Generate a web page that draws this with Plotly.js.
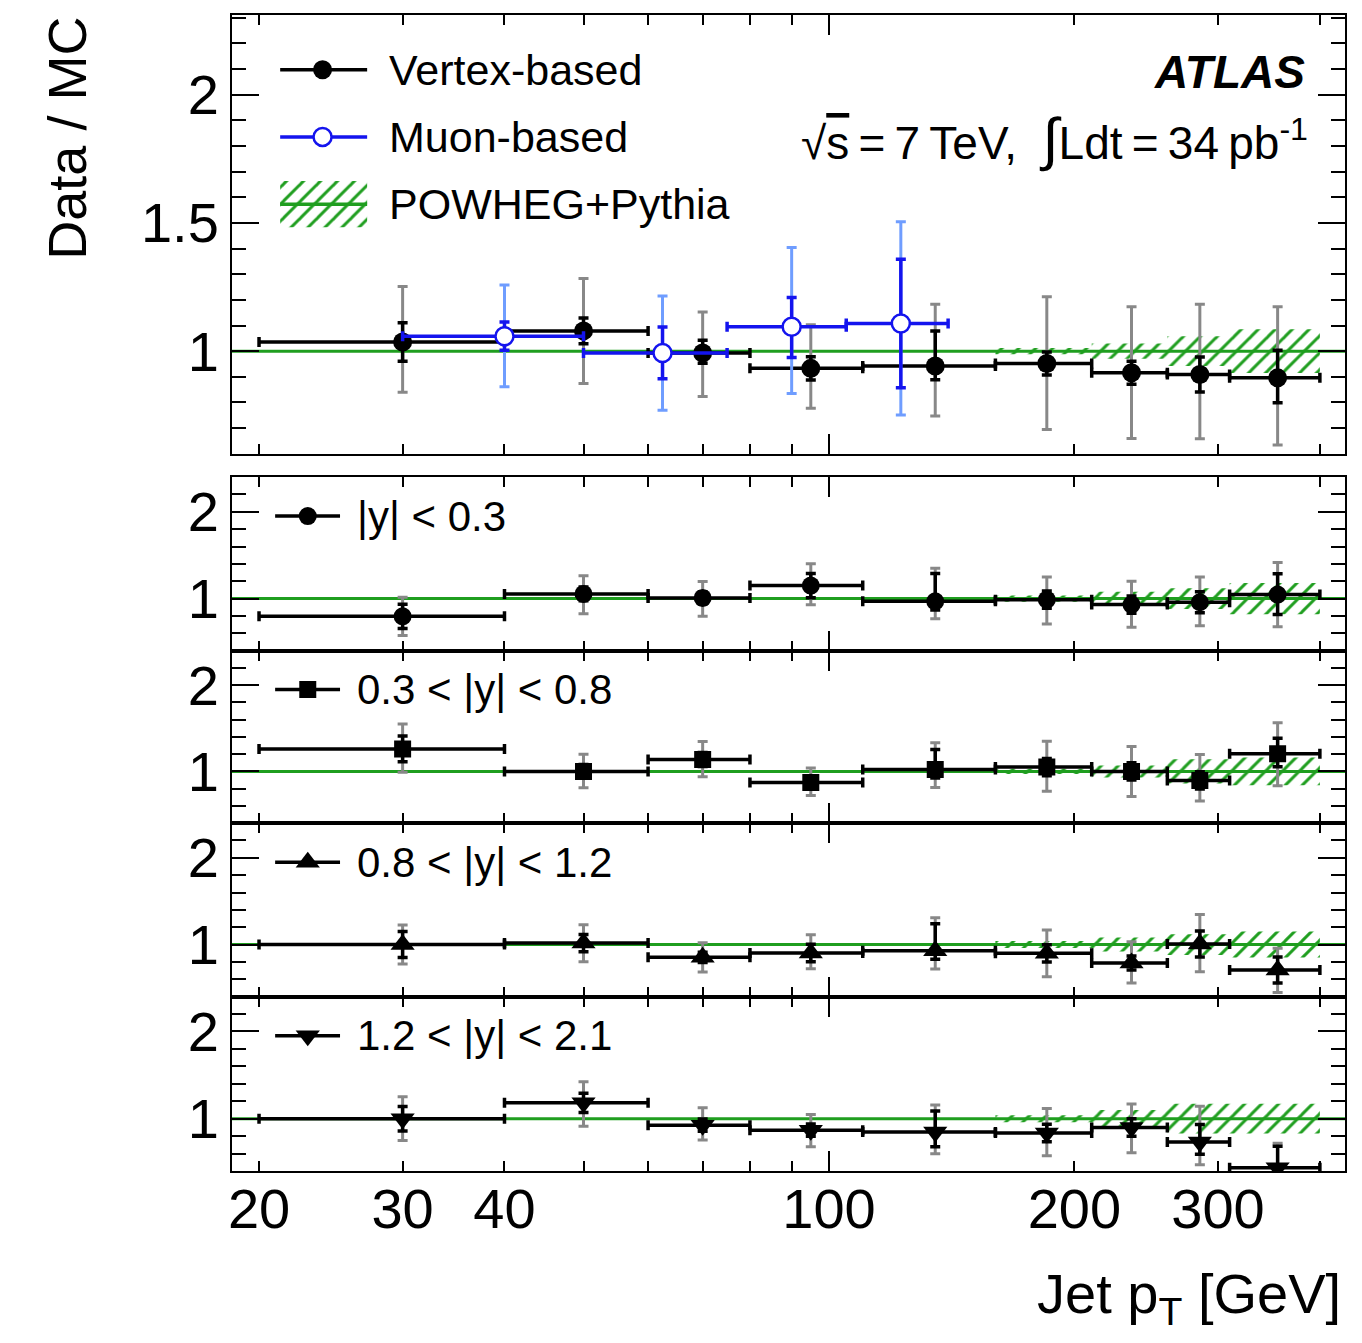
<!DOCTYPE html>
<html><head><meta charset="utf-8">
<script src="https://cdn.plot.ly/plotly-3.0.1.min.js"></script>
<style>html,body{margin:0;padding:0;background:#fff}</style>
</head><body><div id="plot" style="width:1362px;height:1343px"></div>
<script>
// ---------------- data ----------------
const binLo     = [20, 40, 60, 80, 110, 160, 210, 260, 310];
const binHi     = [40, 60, 80, 110, 160, 210, 260, 310, 400];
const binCenter = [30, 50, 70, 95, 135, 185, 235, 285, 355];

// top panel: vertex-based
const vtxVal    = [1.036, 1.079, 0.993, 0.933, 0.942, 0.952, 0.916, 0.909, 0.896];
const vtxStatUp = [0.075, 0.050, 0.050, 0.045, 0.137, 0.045, 0.045, 0.068, 0.108];
const vtxStatDn = [0.075, 0.050, 0.040, 0.045, 0.053, 0.045, 0.045, 0.068, 0.097];
const vtxTotUp  = [0.216, 0.204, 0.160, 0.170, 0.241, 0.260, 0.257, 0.274, 0.277];
const vtxTotDn  = [0.196, 0.205, 0.170, 0.155, 0.195, 0.257, 0.256, 0.250, 0.262];

// top panel: muon-based
const muLo     = [30, 50, 75, 105];
const muHi     = [50, 75, 105, 140];
const muCenter = [40, 62.5, 90, 122.5];
const muVal    = [1.058, 0.993, 1.095, 1.108];
const muStatUp = [0.056, 0.101, 0.114, 0.250];
const muStatDn = [0.054, 0.100, 0.120, 0.251];
const muTotUp  = [0.200, 0.222, 0.309, 0.396];
const muTotDn  = [0.197, 0.223, 0.260, 0.357];

// MC uncertainty band half-widths per bin
const bandTop = [0, 0, 0, 0, 0, 0.012, 0.030, 0.058, 0.085];
const bandY1  = [0, 0, 0, 0, 0, 0.035, 0.080, 0.120, 0.180];
const bandY2  = [0, 0, 0, 0, 0, 0.030, 0.070, 0.140, 0.160];
const bandY3  = [0, 0, 0, 0, 0, 0.040, 0.080, 0.120, 0.150];
const bandY4  = [0, 0, 0, 0, 0, 0.040, 0.100, 0.170, 0.170];

// |y| < 0.3
const y1Val    = [0.796, 1.054, 1.008, 1.150, 0.969, 0.988, 0.931, 0.958, 1.046];
const y1StatUp = [0.14, 0.08, 0.07, 0.14, 0.32, 0.10, 0.10, 0.12, 0.24];
const y1StatDn = [0.14, 0.08, 0.07, 0.14, 0.10, 0.10, 0.10, 0.12, 0.23];
const y1TotUp  = [0.22, 0.21, 0.19, 0.25, 0.38, 0.26, 0.27, 0.29, 0.37];
const y1TotDn  = [0.22, 0.23, 0.21, 0.22, 0.20, 0.28, 0.26, 0.27, 0.37];
// 0.3 < |y| < 0.8
const y2Val    = [1.261, 1.000, 1.138, 0.870, 1.023, 1.050, 1.000, 0.896, 1.204];
const y2StatUp = [0.15, 0.08, 0.08, 0.07, 0.23, 0.10, 0.10, 0.10, 0.18];
const y2StatDn = [0.15, 0.08, 0.08, 0.07, 0.10, 0.10, 0.10, 0.10, 0.15];
const y2TotUp  = [0.29, 0.20, 0.21, 0.17, 0.31, 0.30, 0.29, 0.30, 0.36];
const y2TotDn  = [0.27, 0.19, 0.20, 0.15, 0.21, 0.28, 0.29, 0.24, 0.37];
// 0.8 < |y| < 1.2
const y3Val    = [1.000, 1.017, 0.852, 0.902, 0.929, 0.899, 0.787, 1.006, 0.706];
const y3StatUp = [0.15, 0.10, 0.06, 0.10, 0.31, 0.10, 0.08, 0.15, 0.15];
const y3StatDn = [0.15, 0.10, 0.06, 0.10, 0.10, 0.10, 0.08, 0.15, 0.15];
const y3TotUp  = [0.225, 0.21, 0.17, 0.21, 0.38, 0.27, 0.245, 0.34, 0.25];
const y3TotDn  = [0.225, 0.215, 0.17, 0.18, 0.21, 0.27, 0.23, 0.32, 0.26];
// 1.2 < |y| < 2.1
const y4Val    = [1.000, 1.182, 0.925, 0.868, 0.848, 0.836, 0.899, 0.733, 0.438];
const y4StatUp = [0.14, 0.11, 0.07, 0.07, 0.24, 0.10, 0.10, 0.20, 0.245];
const y4StatDn = [0.14, 0.11, 0.07, 0.07, 0.17, 0.10, 0.10, 0.14, 0.245];
const y4TotUp  = [0.25, 0.24, 0.20, 0.18, 0.31, 0.28, 0.27, 0.41, 0.28];
const y4TotDn  = [0.25, 0.27, 0.17, 0.19, 0.25, 0.26, 0.29, 0.26, 0.28];

const xTickVals   = [20, 30, 40, 100, 200, 300];
const xTickText   = ['20', '30', '40', '100', '200', '300'];
const xMinorVals  = [20, 30, 40, 50, 60, 70, 80, 90, 200, 300, 400];
const seriesNames = ['Vertex-based', 'Muon-based', 'POWHEG+Pythia'];
const rapLabels   = ['|y| < 0.3', '0.3 < |y| < 0.8', '0.8 < |y| < 1.2', '1.2 < |y| < 2.1'];

// ---------------- style ----------------
const X_MIN = 18.53, X_MAX = 429.4;
const FONT = 'Liberation Sans, Arial, Helvetica, sans-serif';
const GREEN = '#1f9e1f', GRAY = '#888888', BLUE = '#1414ee', LBLUE = '#6f9dff';
const LEG_TOP = {x0: 21.23, x1: 27.14, xm: 23.93, y: [2.097, 1.835, 1.573], boxHalf: 0.09};
const LEG_LOW = {x0: 20.93, x1: 25.14, xm: 22.95, y: 1.95};

const sub = (a, b) => a.map((v, i) => v - b[i]);
const traces = [];

function bandTrace(xa, ya, half) {
  const xs = [], ys = [];
  for (let i = 0; i < half.length; i++) if (half[i] > 0) { xs.push(binLo[i], binHi[i]); ys.push(1 + half[i], 1 + half[i]); }
  for (let i = half.length - 1; i >= 0; i--) if (half[i] > 0) { xs.push(binHi[i], binLo[i]); ys.push(1 - half[i], 1 - half[i]); }
  return {x: xs, y: ys, xaxis: xa, yaxis: ya, mode: 'lines', line: {width: 0, color: 'rgba(0,0,0,0)'},
    fill: 'toself', fillcolor: 'rgba(0,0,0,0)',
    fillpattern: {shape: '/', size: 12, solidity: 0.25, fgcolor: GREEN, bgcolor: 'rgba(0,0,0,0)', fgopacity: 1},
    hoverinfo: 'skip', showlegend: false};
}
function unityLine(xa, ya) {
  return {x: [X_MIN, X_MAX], y: [1, 1], xaxis: xa, yaxis: ya, mode: 'lines',
    line: {color: GREEN, width: 3}, hoverinfo: 'skip', showlegend: false};
}
function pointTraces(xa, ya, xc, lo, hi, val, sUp, sDn, tUp, tDn, marker, col, outerCol) {
  traces.push({x: xc, y: val, xaxis: xa, yaxis: ya, mode: 'markers',
    marker: {size: 4, color: 'rgba(0,0,0,0)'},
    error_y: {type: 'data', symmetric: false, array: tUp, arrayminus: tDn, color: outerCol, thickness: 3, width: 5},
    hoverinfo: 'skip', showlegend: false});
  traces.push({x: xc, y: val, xaxis: xa, yaxis: ya, mode: 'markers', marker: marker,
    error_x: {type: 'data', symmetric: false, array: sub(hi, xc), arrayminus: sub(xc, lo), color: col, thickness: 3.5, width: 5},
    error_y: {type: 'data', symmetric: false, array: sUp, arrayminus: sDn, color: col, thickness: 3.5, width: 5},
    showlegend: false});
}

// ---- top panel
traces.push(bandTrace('x', 'y', bandTop));
traces.push(unityLine('x', 'y'));
pointTraces('x', 'y', binCenter, binLo, binHi, vtxVal, vtxStatUp, vtxStatDn, vtxTotUp, vtxTotDn,
  {symbol: 'circle', size: 19, color: 'black'}, 'black', GRAY);
pointTraces('x', 'y', muCenter, muLo, muHi, muVal, muStatUp, muStatDn, muTotUp, muTotDn,
  {symbol: 'circle', size: 18, color: 'white', line: {color: BLUE, width: 2.5}}, BLUE, LBLUE);

// ---- lower panels
const lower = [
  {val: y1Val, su: y1StatUp, sd: y1StatDn, tu: y1TotUp, td: y1TotDn, band: bandY1, sym: 'circle', size: 18},
  {val: y2Val, su: y2StatUp, sd: y2StatDn, tu: y2TotUp, td: y2TotDn, band: bandY2, sym: 'square', size: 17},
  {val: y3Val, su: y3StatUp, sd: y3StatDn, tu: y3TotUp, td: y3TotDn, band: bandY3, sym: 'triangle-up', size: 21},
  {val: y4Val, su: y4StatUp, sd: y4StatDn, tu: y4TotUp, td: y4TotDn, band: bandY4, sym: 'triangle-down', size: 21},
];
lower.forEach((p, k) => {
  const xa = 'x' + (k + 2), ya = 'y' + (k + 2);
  traces.push(bandTrace(xa, ya, p.band));
  traces.push(unityLine(xa, ya));
  pointTraces(xa, ya, binCenter, binLo, binHi, p.val, p.su, p.sd, p.tu, p.td,
    {symbol: p.sym, size: p.size, color: 'black'}, 'black', GRAY);
  // legend sample
  traces.push({x: [LEG_LOW.x0, LEG_LOW.x1], y: [LEG_LOW.y, LEG_LOW.y], xaxis: xa, yaxis: ya, mode: 'lines',
    line: {color: 'black', width: 3.5}, hoverinfo: 'skip', showlegend: false});
  traces.push({x: [LEG_LOW.xm], y: [LEG_LOW.y], xaxis: xa, yaxis: ya, mode: 'markers',
    marker: {symbol: p.sym, size: p.size, color: 'black'}, hoverinfo: 'skip', showlegend: false});
});

// ---- top legend samples
traces.push({x: [LEG_TOP.x0, LEG_TOP.x1], y: [LEG_TOP.y[0], LEG_TOP.y[0]], xaxis: 'x', yaxis: 'y', mode: 'lines',
  line: {color: 'black', width: 3.5}, hoverinfo: 'skip', showlegend: false});
traces.push({x: [LEG_TOP.xm], y: [LEG_TOP.y[0]], xaxis: 'x', yaxis: 'y', mode: 'markers',
  marker: {symbol: 'circle', size: 19, color: 'black'}, hoverinfo: 'skip', showlegend: false});
traces.push({x: [LEG_TOP.x0, LEG_TOP.x1], y: [LEG_TOP.y[1], LEG_TOP.y[1]], xaxis: 'x', yaxis: 'y', mode: 'lines',
  line: {color: BLUE, width: 3.5}, hoverinfo: 'skip', showlegend: false});
traces.push({x: [LEG_TOP.xm], y: [LEG_TOP.y[1]], xaxis: 'x', yaxis: 'y', mode: 'markers',
  marker: {symbol: 'circle', size: 18, color: 'white', line: {color: BLUE, width: 2.5}}, hoverinfo: 'skip', showlegend: false});
traces.push({x: [LEG_TOP.x0, LEG_TOP.x1, LEG_TOP.x1, LEG_TOP.x0],
  y: [LEG_TOP.y[2] + LEG_TOP.boxHalf, LEG_TOP.y[2] + LEG_TOP.boxHalf, LEG_TOP.y[2] - LEG_TOP.boxHalf, LEG_TOP.y[2] - LEG_TOP.boxHalf],
  xaxis: 'x', yaxis: 'y', mode: 'lines', line: {width: 0, color: 'rgba(0,0,0,0)'}, fill: 'toself', fillcolor: 'rgba(0,0,0,0)',
  fillpattern: {shape: '/', size: 12, solidity: 0.25, fgcolor: GREEN, bgcolor: 'rgba(0,0,0,0)', fgopacity: 1},
  hoverinfo: 'skip', showlegend: false});
traces.push({x: [LEG_TOP.x0, LEG_TOP.x1], y: [LEG_TOP.y[2], LEG_TOP.y[2]], xaxis: 'x', yaxis: 'y', mode: 'lines',
  line: {color: GREEN, width: 3.5}, hoverinfo: 'skip', showlegend: false});

// dummy trace for tick-label axis
traces.push({x: [], y: [], xaxis: 'x6', yaxis: 'y5', mode: 'markers', hoverinfo: 'skip', showlegend: false});

// ---------------- layout ----------------
const logRange = [Math.log10(X_MIN), Math.log10(X_MAX)];
function xAxis(anchor) {
  return {type: 'log', range: logRange, anchor: anchor, showline: true, linecolor: 'black', linewidth: 2,
    mirror: 'ticks', ticks: 'inside', tickmode: 'array', tickvals: [100], ticklen: 20, tickwidth: 2, tickcolor: 'black',
    showticklabels: false, showgrid: false, zeroline: false,
    minor: {tickmode: 'array', tickvals: xMinorVals, ticks: 'inside', ticklen: 10, tickwidth: 2, tickcolor: 'black', showgrid: false}};
}
function yAxis(anchor, domain, range, vals, text, minorDt) {
  return {domain: domain, range: range, anchor: anchor, showline: true, linecolor: 'black', linewidth: 2,
    mirror: 'ticks', ticks: 'inside', tickmode: 'array', tickvals: vals, ticktext: text, ticklen: 27, tickwidth: 2,
    tickcolor: 'black', showgrid: false, zeroline: false, tickfont: {family: FONT, size: 56, color: 'black'},
    minor: {tickmode: 'linear', tick0: 0, dtick: minorDt, ticks: 'inside', ticklen: 14, tickwidth: 2, tickcolor: 'black', showgrid: false}};
}
const D = [[0.6204, 1], [0.4501, 0.6003], [0.3009, 0.4501], [0.1509, 0.3009], [0, 0.1509]];
const layout = {
  width: 1362, height: 1343, paper_bgcolor: 'white', plot_bgcolor: 'white', showlegend: false,
  margin: {l: 232, r: 17, t: 15, b: 172},
  font: {family: FONT, color: 'black'},
  xaxis: xAxis('y'), xaxis2: xAxis('y2'), xaxis3: xAxis('y3'), xaxis4: xAxis('y4'), xaxis5: xAxis('y5'),
  xaxis6: {type: 'log', range: logRange, overlaying: 'x5', anchor: 'y5', side: 'bottom', showline: false,
    ticks: '', tickmode: 'array', tickvals: xTickVals, ticktext: xTickText, showgrid: false, zeroline: false,
    tickfont: {family: FONT, size: 56, color: 'black'}},
  yaxis: yAxis('x', D[0], [0.6, 2.31], [1, 1.5, 2], ['1', '1.5', '2'], 0.1),
  yaxis2: yAxis('x2', D[1], [0.4, 2.4], [1, 2], ['1', '2'], 0.2),
  yaxis3: yAxis('x3', D[2], [0.4, 2.4], [1, 2], ['1', '2'], 0.2),
  yaxis4: yAxis('x4', D[3], [0.4, 2.4], [1, 2], ['1', '2'], 0.2),
  yaxis5: yAxis('x5', D[4], [0.4, 2.4], [1, 2], ['1', '2'], 0.2),
  annotations: [
    {text: 'Data / MC', xref: 'paper', yref: 'paper', x: -0.149, y: 1.0, xanchor: 'center', yanchor: 'top',
      textangle: -90, showarrow: false, font: {family: FONT, size: 54}},
    {text: 'Jet p<sub>T</sub> [GeV]', xref: 'paper', yref: 'paper', x: 0.998, y: -0.077, xanchor: 'right', yanchor: 'top',
      showarrow: false, font: {family: FONT, size: 56}},
    {text: '<b><i>ATLAS</i></b>', xref: 'paper', yref: 'paper', x: 0.966, y: 0.951, xanchor: 'right', yanchor: 'middle',
      showarrow: false, font: {family: FONT, size: 46}},
    {text: '√<span style="text-decoration:overline">s</span>\u2009=\u20097\u2009TeV,  <span style="font-size:58px">∫</span>Ldt\u2009=\u200934\u2009pb<sup>-1</sup>',
      xref: 'paper', yref: 'paper', x: 0.969, y: 0.893, xanchor: 'right', yanchor: 'middle',
      showarrow: false, font: {family: FONT, size: 46}},
    {text: seriesNames[0], xref: 'paper', yref: 'y', x: 0.1393, y: LEG_TOP.y[0], xanchor: 'left', yanchor: 'middle', showarrow: false, font: {family: FONT, size: 43}},
    {text: seriesNames[1], xref: 'paper', yref: 'y', x: 0.1393, y: LEG_TOP.y[1], xanchor: 'left', yanchor: 'middle', showarrow: false, font: {family: FONT, size: 43}},
    {text: seriesNames[2], xref: 'paper', yref: 'y', x: 0.1393, y: LEG_TOP.y[2], xanchor: 'left', yanchor: 'middle', showarrow: false, font: {family: FONT, size: 43}},
  ].concat(rapLabels.map((t, k) => ({text: t, xref: 'paper', yref: 'y' + (k + 2), x: 0.1105, y: LEG_LOW.y,
    xanchor: 'left', yanchor: 'middle', showarrow: false, font: {family: FONT, size: 42}})))
};
Plotly.newPlot('plot', traces, layout, {staticPlot: true});
</script></body></html>
